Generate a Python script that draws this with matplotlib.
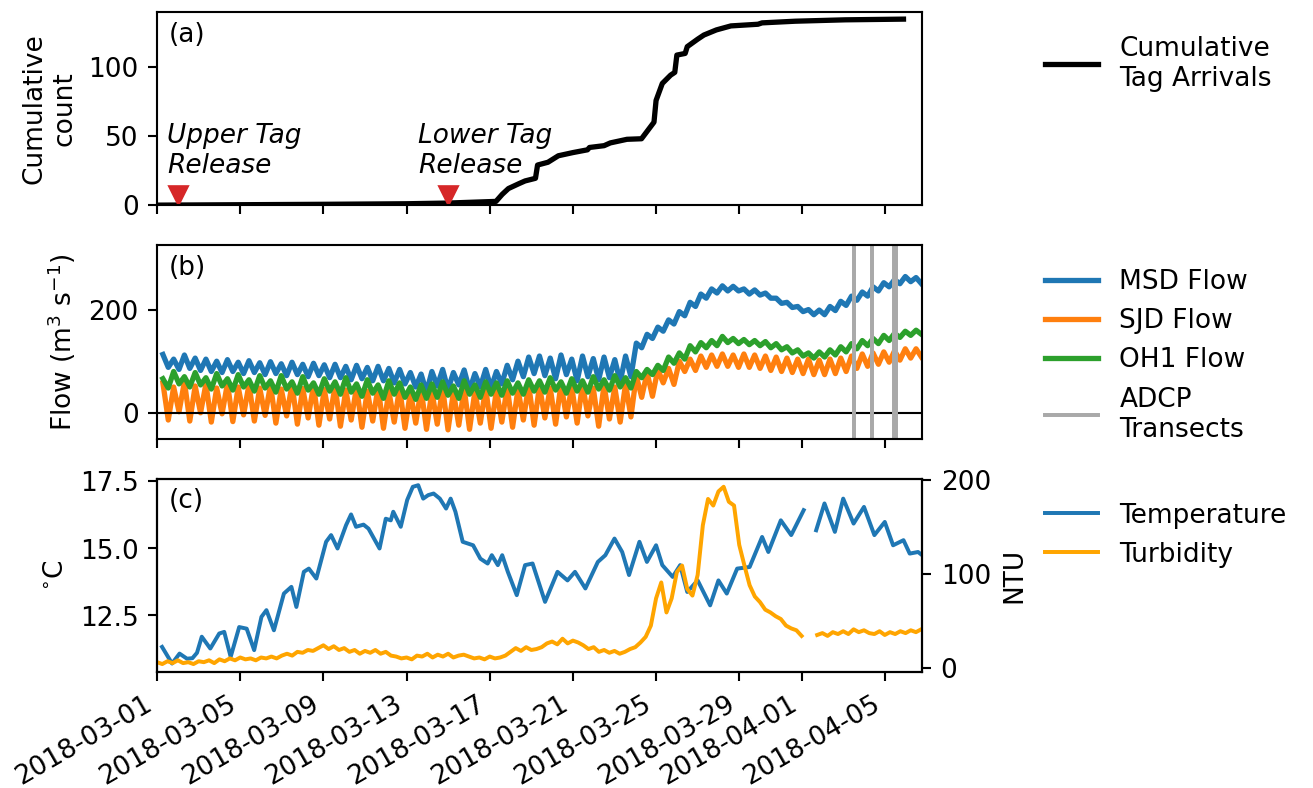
import numpy as np
import pandas as pd
import matplotlib
matplotlib.use("Agg")
import matplotlib.pyplot as plt
import matplotlib.dates as mdates

START = pd.Timestamp("2018-03-01")
END_DAY = 36.8

# ---- (a) cumulative tag arrivals: (day since 2018-03-01, count)
arr_day = [0.0, 4.0, 8.0, 12.0, 14.0, 16.3, 16.6, 16.9, 17.4, 17.7, 18.2, 18.3, 18.8,
           19.3, 20.0, 20.7, 20.8, 21.5, 21.8, 22.6, 23.3, 23.6, 23.9, 24.0, 24.3,
           24.7, 24.9, 25.0, 25.4, 25.5, 26.0, 26.3, 26.9, 27.6, 28.9, 29.1, 30.7,
           33.1, 35.9]
arr_count = [0, 0.3, 0.6, 1.0, 1.5, 2.7, 7.8, 12, 15.5, 17.5, 19.4, 29, 31,
             35.7, 38, 40, 41.7, 43, 45, 47.6, 48, 54, 60, 75.7, 88,
             94, 96, 108.5, 109.7, 114.6, 120, 123, 126.7, 129.6, 130.8, 131.8, 133,
             134, 134.5]
release_day = [1.0, 14.0]
release_label = ["Upper Tag\nRelease", "Lower Tag\nRelease"]
release_text_day = [0.48, 12.56]

# ---- (b) flows, one high and one low per semidiurnal tide
tide_first_high = 0.28
tide_period = 0.5175
msd_high = [113, 104, 112, 106, 104, 100, 103, 98, 101, 97,
            99, 95, 98, 94, 96, 93, 94, 90, 92, 88,
            90, 86, 84, 78, 75, 80, 84, 78, 83, 76,
            84, 80, 92, 100, 108, 110, 106, 112, 104, 110,
            105, 108, 103, 110, 135, 152, 166, 180, 196, 214,
            230, 240, 246, 245, 240, 238, 232, 222, 214, 206,
            200, 199, 206, 216, 226, 234, 244, 252, 258, 264, 262]
msd_low = [88, 84, 86, 82, 80, 78, 80, 76, 78, 74,
           76, 72, 74, 70, 72, 68, 68, 64, 66, 62,
           62, 58, 56, 50, 40, 52, 45, 54, 44, 50,
           48, 56, 64, 70, 76, 72, 66, 74, 62, 70,
           64, 68, 60, 70, 126, 144, 158, 172, 188, 206,
           222, 232, 236, 236, 230, 228, 222, 212, 204, 196,
           190, 190, 198, 208, 218, 226, 236, 244, 250, 254, 250]
sjd_high = [58, 50, 60, 52, 56, 48, 57, 50, 55, 48,
            54, 46, 55, 47, 53, 45, 52, 44, 50, 42,
            50, 42, 48, 40, 46, 42, 48, 40, 47, 42,
            48, 44, 50, 46, 54, 52, 48, 56, 50, 55,
            48, 54, 50, 56, 72, 78, 84, 86, 100, 104,
            110, 112, 114, 112, 114, 112, 110, 108, 106, 104,
            104, 102, 104, 106, 110, 114, 116, 118, 120, 124, 124]
sjd_low = [-14, 2, -16, 0, -18, -2, -17, -4, -16, -5,
           -20, -6, -22, -10, -24, -12, -26, -14, -28, -16,
           -30, -18, -30, -20, -32, -22, -33, -24, -32, -20,
           -30, -18, -28, -14, -24, -10, -22, -8, -20, -6,
           -26, -12, -18, -8, 30, 32, 58, 55, 80, 82,
           88, 90, 90, 88, 88, 86, 82, 80, 78, 76,
           74, 74, 76, 80, 86, 90, 94, 98, 102, 106, 108]
oh1_high = [66, 80, 70, 78, 68, 76, 66, 74, 64, 72,
            62, 72, 60, 70, 58, 66, 60, 68, 56, 64,
            54, 62, 58, 50, 54, 56, 60, 52, 62, 54,
            60, 58, 62, 58, 64, 62, 68, 60, 66, 62,
            70, 64, 72, 68, 80, 84, 92, 108, 116, 130,
            136, 140, 148, 144, 142, 140, 138, 134, 128, 122,
            116, 118, 122, 128, 134, 140, 144, 150, 154, 158, 160]
oh1_low = [48, 56, 50, 54, 46, 52, 44, 50, 42, 48,
           40, 46, 38, 44, 36, 42, 36, 40, 32, 38,
           28, 36, 30, 26, 28, 30, 34, 28, 36, 30,
           36, 34, 38, 36, 42, 40, 44, 38, 42, 40,
           46, 44, 50, 48, 68, 74, 82, 96, 104, 118,
           126, 130, 136, 134, 132, 130, 126, 122, 116, 110,
           106, 108, 112, 118, 124, 130, 134, 140, 146, 150, 152]
adcp_times = ["2018-04-03 12:45", "2018-04-04 08:50", "2018-04-05 10:40", "2018-04-05 13:10"]

# ---- (c) temperature (degC) and turbidity (NTU)
temp_day = [0.24, 0.72, 1.08, 1.44, 1.7, 1.92, 2.15, 2.56, 2.99, 3.23, 3.54, 3.95, 4.31,
            4.67, 5.02, 5.26, 5.62, 6.1, 6.46, 6.7, 7.06, 7.3, 7.66, 8.13, 8.37,
            8.68, 9.09, 9.33, 9.57, 9.93, 10.17, 10.7, 11.0, 11.24, 11.36, 11.72,
            12.03, 12.3, 12.56, 12.8, 13.04, 13.3, 13.6, 13.9, 14.12, 14.35, 14.7,
            15.2, 15.55, 15.9, 16.1, 16.39, 16.6, 16.87, 17.3, 17.7, 18.06, 18.66,
            19.26, 19.74, 20.1, 20.6, 21.2, 21.56, 22.0, 22.37, 22.7, 23.2, 23.56,
            24.0, 24.3, 24.8, 25.16, 25.5, 26.0, 26.6, 27.0, 27.4, 27.9, 28.5,
            29.1, 29.4, 30.0, 30.5, 31.1, 31.4, 31.7, 32.1, 32.6, 33.0, 33.5,
            34.0, 34.5, 35.0, 35.4, 35.9, 36.2, 36.6, 36.8]
temp_c = [11.32, 10.7, 11.07, 10.88, 10.9, 11.1, 11.7, 11.26, 11.82, 11.88, 10.95, 12.06, 12.0,
          11.2, 12.44, 12.69, 11.94, 13.31, 13.56, 12.81, 14.12, 14.24, 13.87, 15.24, 15.49,
          14.99, 15.86, 16.26, 15.8, 15.88, 15.73, 14.99, 16.1, 16.04, 16.36, 15.8,
          16.8, 17.29, 17.35, 16.85, 16.98, 17.04, 16.85, 16.48, 16.85, 16.36, 15.24,
          15.11, 14.61, 14.43, 14.74, 14.37, 14.74, 14.12, 13.25, 14.37, 14.43, 13.0,
          14.12, 13.8, 14.12, 13.5, 14.49, 14.74, 15.36, 14.86, 14.0, 15.24, 14.49,
          15.11, 14.37, 13.93, 14.37, 13.37, 13.8, 12.87, 13.8, 13.31, 14.24, 14.3,
          15.42, 14.86, 16.04, 15.49, 16.42, np.nan, 15.67, 16.67, 15.61, 16.85, 15.92,
          16.54, 15.49, 15.98, 15.11, 15.3, 14.8, 14.86, 14.74]
turb_step = 0.25
turb_ntu = [6, 4, 7, 5, 8, 5, 6, 4, 7, 6, 8, 5,
            9, 7, 10, 8, 11, 9, 10, 8, 11, 10, 12, 10,
            13, 15, 13, 17, 16, 19, 18, 21,
            24, 20, 23, 19,
            21, 17, 19, 15, 18, 16, 19, 15, 17, 13, 12, 10,
            11, 9, 13, 12, 15, 11, 14, 12, 15, 11, 13, 14,
            12, 10, 11, 9, 12, 10, 11, 13,
            17, 21, 18, 22, 19, 20, 22, 26,
            28, 25, 31, 26, 29, 27,
            24, 20, 22, 17, 19, 16, 18, 15, 17, 20,
            22, 27, 33, 45,
            74, 91, 59, 74,
            102, 109, 84, 77,
            99, 152, 180, 173,
            188, 193, 177, 173,
            131, 109, 88, 76,
            70, 62, 59, 55,
            52, 45, 42, 40,
            34, np.nan, np.nan, 35,
            37, 34, 38, 36,
            39, 36, 41, 38,
            40, 37, 36, 39,
            35, 38, 36, 39,
            37, 40, 38, 41]


def to_time(days):
    return START + pd.to_timedelta(np.asarray(days, dtype=float), unit="D")


def tide_series(highs, lows):
    n = len(highs)
    t_high = tide_first_high + tide_period * np.arange(n)
    days = np.column_stack([t_high, t_high + tide_period / 2]).ravel()
    vals = np.column_stack([highs, lows]).ravel().astype(float)
    return to_time(days), vals


DPI = 190
plt.rcParams["font.size"] = 10
fig, (ax1, ax2, ax3) = plt.subplots(3, 1, sharex=True, figsize=(1313.3 / DPI, 788.3 / DPI), dpi=DPI)
fig.subplots_adjust(left=0.1196, right=0.7022, top=0.985, bottom=0.147, hspace=0.206)
leg_kw = dict(loc="upper left", bbox_to_anchor=(1.13, 1.0), frameon=False)

# (a)
ax1.plot(to_time(arr_day), arr_count, color="k", lw=2, label="Cumulative\nTag Arrivals")
ax1.plot(to_time(release_day), [7, 7], "v", color="tab:red", ms=7, ls="none")
for d, lab in zip(release_text_day, release_label):
    ax1.text(to_time([d])[0], 19, lab, fontstyle="italic", va="bottom", ha="left")
ax1.set_ylim(0, 140)
ax1.set_ylabel("Cumulative\ncount")
ax1.text(0.015, 0.95, "(a)", transform=ax1.transAxes, va="top")
ax1.legend(**leg_kw)

# (b)
for hi, lo, lab, col in [(msd_high, msd_low, "MSD Flow", "tab:blue"),
                         (sjd_high, sjd_low, "SJD Flow", "tab:orange"),
                         (oh1_high, oh1_low, "OH1 Flow", "tab:green")]:
    t, v = tide_series(hi, lo)
    ax2.plot(t, v, color=col, lw=2, label=lab)
ax2.axhline(0, color="k", lw=0.8)
for i, ts in enumerate(adcp_times):
    ax2.axvline(pd.Timestamp(ts), color="darkgray", lw=1.5,
                label="ADCP\nTransects" if i == 0 else None)
ax2.set_ylim(-50, 325)
ax2.set_yticks([0, 200])
ax2.set_ylabel("Flow (m$^3$ s$^{-1}$)")
ax2.text(0.015, 0.95, "(b)", transform=ax2.transAxes, va="top")
ax2.legend(**leg_kw)

# (c)
l1, = ax3.plot(to_time(temp_day), temp_c, color="tab:blue", lw=1.5, label="Temperature")
ax3b = ax3.twinx()
turb_day = turb_step * np.arange(len(turb_ntu))
l2, = ax3b.plot(to_time(turb_day), turb_ntu, color="orange", lw=1.5, label="Turbidity")
ax3.set_ylim(10.38, 17.6)
ax3b.set_ylim(-4.6, 201.8)
ax3.set_yticks([12.5, 15.0, 17.5])
ax3b.set_yticks([0, 100, 200])
ax3.set_ylabel(r"$^{\circ}$C")
ax3b.set_ylabel("NTU")
ax3.text(0.015, 0.95, "(c)", transform=ax3.transAxes, va="top")
ax3.legend([l1, l2], ["Temperature", "Turbidity"], **leg_kw)

ax3.set_xlim(START, to_time([END_DAY])[0])
ax3.xaxis.set_major_locator(mdates.DayLocator(bymonthday=[1, 5, 9, 13, 17, 21, 25, 29]))
ax3.xaxis.set_major_formatter(mdates.DateFormatter("%Y-%m-%d"))
plt.setp(ax3.get_xticklabels(), rotation=30, ha="right")

fig.savefig("out.png", dpi=DPI)
